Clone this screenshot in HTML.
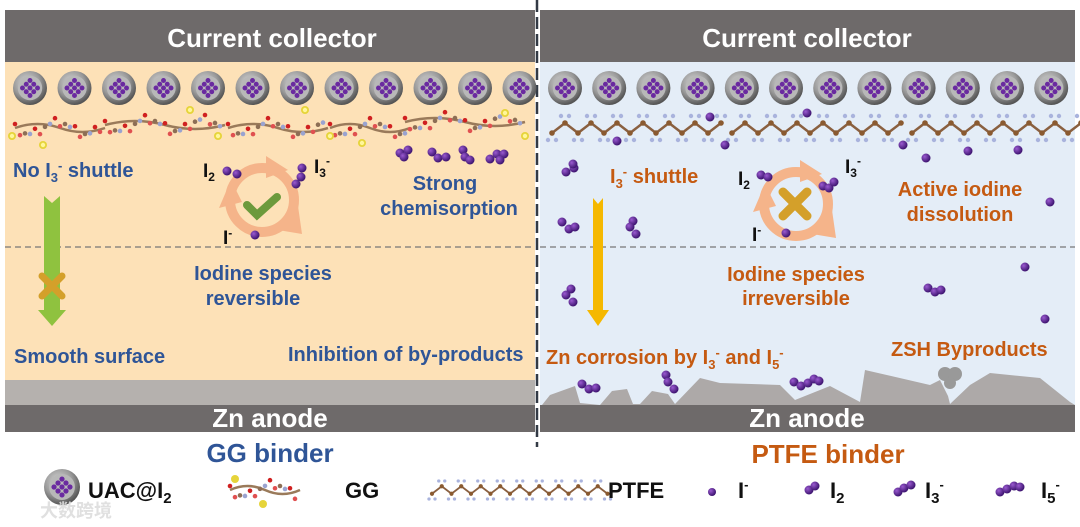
<!DOCTYPE html>
<html><head><meta charset="utf-8"><style>
html,body{margin:0;padding:0;background:#fff;width:1080px;height:527px;overflow:hidden}
text{font-family:"Liberation Sans",Arial,sans-serif;font-weight:bold}
</style></head><body>
<svg id="s" width="1080" height="527" viewBox="0 0 1080 527" xmlns="http://www.w3.org/2000/svg">
<defs>
<radialGradient id="ball" cx="40%" cy="35%" r="65%"><stop offset="0" stop-color="#d8d8d8"/><stop offset="0.6" stop-color="#9a9a9a"/><stop offset="1" stop-color="#555"/></radialGradient>
<radialGradient id="iod" cx="35%" cy="35%" r="65%"><stop offset="0" stop-color="#9a5ad0"/><stop offset="1" stop-color="#3d1470"/></radialGradient>
</defs>
<rect x="5" y="10" width="530" height="422" fill="#fde1b7"/>
<rect x="5" y="10" width="530" height="52" fill="#6e6a6a"/>
<rect x="5" y="380" width="530" height="25" fill="#b5b1ae"/>
<rect x="5" y="405" width="530" height="27" fill="#6e6a6a"/>
<rect x="540" y="10" width="535" height="422" fill="#e4edf7"/>
<rect x="540" y="10" width="535" height="52" fill="#6e6a6a"/>
<polygon fill="#ada9a8" points="542,405 550,395 575,386 580,403 600,405 612,391 627,389 633,404 640,404 652,391 668,394 675,404 700,378 720,383 780,385 795,400 830,386 860,402 865,370 930,385 940,380 948,396 950,404 970,385 990,373 1040,378 1070,402 1075,405"/>
<rect x="540" y="405" width="535" height="27" fill="#6e6a6a"/>
<line x1="5" y1="247" x2="535" y2="247" stroke="#777" stroke-dasharray="6,4" stroke-width="1.2"/>
<line x1="540" y1="247" x2="1075" y2="247" stroke="#777" stroke-dasharray="6,4" stroke-width="1.2"/>
<line x1="537" y1="0" x2="537" y2="447" stroke="#333a45" stroke-width="2.5" stroke-dasharray="12,5"/>
<g id="dyn"></g>
<text x="272" y="47" fill="#fff" font-size="26" text-anchor="middle">Current collector</text>
<text x="807" y="47" fill="#fff" font-size="26" text-anchor="middle">Current collector</text>
<text x="270" y="427" fill="#fff" font-size="26" text-anchor="middle">Zn anode</text>
<text x="807" y="427" fill="#fff" font-size="26" text-anchor="middle">Zn anode</text>
<text x="270" y="462" fill="#2f5597" font-size="26" text-anchor="middle">GG binder</text>
<text x="828" y="463" fill="#c55a11" font-size="26" text-anchor="middle">PTFE binder</text>
<g fill="#2f5597" font-size="20">
<text x="13" y="177">No I<tspan font-size="13" dy="5">3</tspan><tspan font-size="13" dy="-12">-</tspan><tspan dy="7"> shuttle</tspan></text>
<text x="445" y="190" text-anchor="middle">Strong</text>
<text x="449" y="215" text-anchor="middle">chemisorption</text>
<text x="263" y="280" text-anchor="middle">Iodine species</text>
<text x="253" y="305" text-anchor="middle">reversible</text>
<text x="14" y="363">Smooth surface</text>
<text x="288" y="361">Inhibition of by-products</text>
</g>
<g fill="#c55a11" font-size="20">
<text x="610" y="183">I<tspan font-size="13" dy="5">3</tspan><tspan font-size="13" dy="-12">-</tspan><tspan dy="7"> shuttle</tspan></text>
<text x="960" y="196" text-anchor="middle">Active iodine</text>
<text x="960" y="221" text-anchor="middle">dissolution</text>
<text x="796" y="281" text-anchor="middle">Iodine species</text>
<text x="796" y="305" text-anchor="middle">irreversible</text>
<text x="546" y="364">Zn corrosion by I<tspan font-size="13" dy="5">3</tspan><tspan font-size="13" dy="-12">-</tspan><tspan dy="7"> and I</tspan><tspan font-size="13" dy="5">5</tspan><tspan font-size="13" dy="-12">-</tspan></text>
<text x="891" y="356">ZSH Byproducts</text>
</g>
<g fill="#111" font-size="19">
<text x="203" y="177">I<tspan font-size="12" dy="4">2</tspan></text>
<text x="314" y="173">I<tspan font-size="12" dy="4">3</tspan><tspan font-size="12" dy="-12">-</tspan></text>
<text x="223" y="244">I<tspan font-size="12" dy="-7">-</tspan></text>
<text x="738" y="185">I<tspan font-size="12" dy="4">2</tspan></text>
<text x="845" y="173">I<tspan font-size="12" dy="4">3</tspan><tspan font-size="12" dy="-12">-</tspan></text>
<text x="752" y="241">I<tspan font-size="12" dy="-7">-</tspan></text>
</g>
<g fill="#111" font-size="22">
<text x="88" y="498">UAC@I<tspan font-size="15" dy="5">2</tspan></text>
<text x="345" y="498">GG</text>
<text x="608" y="498">PTFE</text>
<text x="738" y="498">I<tspan font-size="13" dy="-9">-</tspan></text>
<text x="830" y="498">I<tspan font-size="15" dy="5">2</tspan></text>
<text x="925" y="498">I<tspan font-size="15" dy="5">3</tspan><tspan font-size="13" dy="-14">-</tspan></text>
<text x="1041" y="498">I<tspan font-size="15" dy="5">5</tspan><tspan font-size="13" dy="-14">-</tspan></text>
</g>
<text x="40" y="517" fill="#ddd" font-size="18" style="font-family:'Liberation Sans','Noto Sans CJK SC',sans-serif" opacity="0.9">大数跨境</text>
</svg>
<script>
const g=document.getElementById('dyn');let h='';
function c(x,y,r,f){h+=`<circle cx="${x}" cy="${y}" r="${r}" fill="${f}"/>`;}
function I(x,y,r){c(x,y,r||4.5,'url(#iod)');}
function uac(x,y,R){c(x,y,R,'url(#ball)');c(x,y,R*0.72,'#b8b8b8');const s=R*0.17;
 [[0,-2],[-1,-1],[1,-1],[-2,0],[0,0],[2,0],[-1,1],[1,1],[0,2]].forEach(p=>c(x+p[0]*s*1.3,y+p[1]*s*1.3,s*0.85,'#6a2aa0'));}
for(let i=0;i<12;i++){uac(30+44.5*i,88,17);uac(565+44.2*i,88,17);}
function ptfe(x0,y0,n,sc){let d='';for(let i=0;i<=n;i++){const x=x0+i*13*sc,y=y0+(i%2?-5:5)*sc;d+=(i?'L':'M')+x+','+y;}
 h+=`<path d="${d}" stroke="#8a6040" stroke-width="${2.5*sc}" fill="none"/>`;
 for(let i=0;i<=n;i++){const x=x0+i*13*sc,y=y0+(i%2?-5:5)*sc;c(x-4*sc,y+(i%2?-7:7)*sc,2.2*sc,'#a9b3dd');c(x+4*sc,y+(i%2?-7:7)*sc,2.2*sc,'#a9b3dd');c(x,y,2.8*sc,'#8a5a30');}}
ptfe(552,128,13,1);ptfe(732,128,13,1);ptfe(912,128,13,1);ptfe(432,490,18,0.75);
function gg(x0,y0,w){h+=`<path d="M${x0},${y0} q${w/4},-8 ${w/2},0 t${w/2},0" stroke="#9a7a5a" stroke-width="2.5" fill="none"/>`;
 for(let i=0;i<w;i+=5){const y=y0+Math.sin(i/9)*6;const k=i%20;c(x0+i,y+(k<5?-4:(k<10?4:0)),2.3,k<5?'#d02020':(k<10?'#e05050':(k<15?'#8d6e55':'#9aa3d0')));}}
gg(15,128,90);gg(105,125,120);gg(228,128,100);gg(330,128,80);gg(405,122,120);gg(230,490,70);
[[12,136],[43,145],[190,110],[305,110],[218,136],[330,136],[362,143],[505,113],[525,136]].forEach(p=>{c(p[0],p[1],4,'#e6d43a');c(p[0],p[1],2.2,'#fff69a');});
c(235,479,4,'#e6d43a');c(263,504,4,'#e6d43a');
function cyc(cx,cy){h+=`<circle cx="${cx}" cy="${cy}" r="32" stroke="#f5b48a" stroke-width="10" fill="none"/>`;
 h+=`<polygon points="${cx+4},${cy-44} ${cx+26},${cy-30} ${cx+4},${cy-22}" fill="#f5b48a"/>`;
 h+=`<polygon points="${cx+36},${cy+6} ${cx+40},${cy+34} ${cx+16},${cy+30}" fill="#f5b48a"/>`;
 h+=`<polygon points="${cx-43},${cy+8} ${cx-31},${cy-20} ${cx-20},${cy+2}" fill="#f5b48a"/>`;}
cyc(262,200);cyc(796,204);
h+=`<path d="M247,205 l10,10 l20,-18" stroke="#6c9a3c" stroke-width="8" fill="none" stroke-linecap="round"/>`;
h+=`<path d="M783,192 l24,24 M807,192 l-24,24" stroke="#d4a02a" stroke-width="9" stroke-linecap="round"/>`;
h+=`<polygon points="44,196 52,203 60,196 60,310 66,310 52,326 38,310 44,310" fill="#8fc23f"/>`;
h+=`<path d="M42,276 l20,20 M62,276 l-20,20" stroke="#d4a02a" stroke-width="7" stroke-linecap="round"/>`;
h+=`<polygon points="593,198 598,204 603,198 603,310 609,310 598,326 587,310 593,310" fill="#f5b800"/>`;
I(227,171);I(237,174);I(296,184);I(301,177);I(302,168);I(255,235);
[[400,153],[408,150],[404,157]].forEach(p=>I(...p));
[[432,152],[438,158],[446,157]].forEach(p=>I(...p));
[[463,150],[465,157],[470,160]].forEach(p=>I(...p));
[[490,159],[497,154],[504,154],[500,160]].forEach(p=>I(...p));
[[710,117],[807,113],[617,141],[725,145],[903,145],[926,158],[968,151],[1018,150],[1050,202],[1025,267],[1045,319]].forEach(p=>I(...p));
I(566,172);I(574,168);I(573,164);I(761,175);I(768,177);I(823,186);I(829,188);I(834,182);I(786,233);
I(562,222);I(569,229);I(575,227);I(633,221);I(630,227);I(636,234);
I(928,288);I(935,292);I(941,290);I(571,289);I(566,295);I(573,302);
I(582,384);I(589,389);I(596,388);I(666,375);I(668,382);I(674,389);I(794,382);I(801,386);I(808,383);I(814,379);I(819,381);
c(945,374,7,'#999');c(955,374,7,'#999');c(950,383,6,'#999');
uac(62,487,18);I(712,492,4);I(809,490);I(815,486);I(898,492);I(904,488);I(911,485);I(1000,492);I(1007,489);I(1014,486);I(1020,487);
g.innerHTML=h;
</script>
</body></html>
